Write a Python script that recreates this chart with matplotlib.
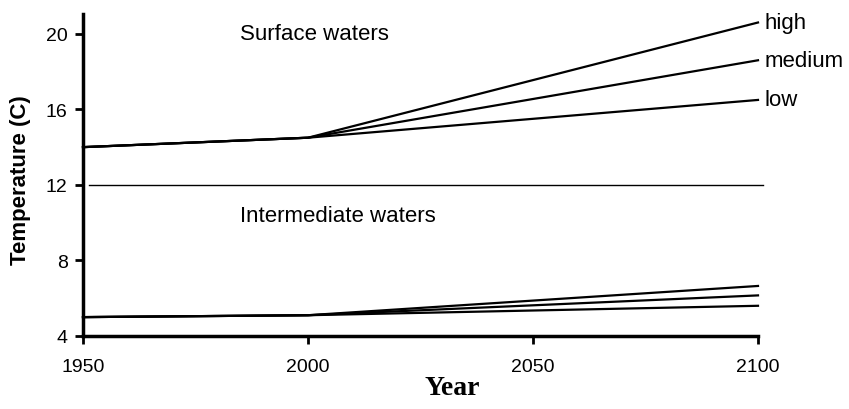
import numpy as np
import matplotlib.pyplot as plt

plt.rcParams['font.family'] = ['Liberation Sans', 'DejaVu Sans']

# data
years = [1950, 2000, 2100]
scenarios = ['high', 'medium', 'low']
surface = {'high': [14.0, 14.5, 20.6],
           'medium': [14.0, 14.5, 18.6],
           'low': [14.0, 14.5, 16.5]}
intermediate = {'high': [5.0, 5.1, 6.65],
                'medium': [5.0, 5.1, 6.15],
                'low': [5.0, 5.1, 5.6]}
divider_y = 12
divider_x = [1951.3, 2101]
yticks = [4, 8, 12, 16, 20]
xticks = [1950, 2000, 2050, 2100]

fig = plt.figure(figsize=(8.49, 4.10), dpi=100)
ax = fig.add_axes([83/849, (410-337)/410, (758-83)/849, (337-15)/410])

for s in scenarios:
    ax.plot(years, surface[s], color='black', lw=1.6, clip_on=False)
    ax.plot(years, intermediate[s], color='black', lw=1.6, clip_on=False)
    ax.text(2101.5, surface[s][-1], s, fontsize=16, va='center', ha='left')

ax.plot(divider_x, [divider_y, divider_y], color='black', lw=1.0, clip_on=False)

ax.text(1985, 20.0, 'Surface waters', fontsize=16, va='center', ha='left')
ax.text(1985, 10.4, 'Intermediate waters', fontsize=16, va='center', ha='left')

ax.set_xlim(1950, 2100)
ax.set_ylim(4, 21.05)
ax.set_xticks(xticks)
ax.set_yticks(yticks)
ax.tick_params(labelsize=14, width=2, length=6, direction='out')
ax.tick_params(axis='x', pad=10)
ax.tick_params(axis='y', pad=5)
for side in ['top', 'right']:
    ax.spines[side].set_visible(False)
for side in ['left', 'bottom']:
    ax.spines[side].set_linewidth(2.5)

ax.set_ylabel('Temperature (C)', fontsize=16, fontweight='bold')
ax.yaxis.set_label_coords(-52/675, (337-180)/322)
fig.text(452/849, 1 - 389/410, 'Year', fontsize=20, fontweight='bold',
         family=['Liberation Serif', 'DejaVu Serif'], ha='center', va='center')

fig.savefig('out.png', dpi=100)
